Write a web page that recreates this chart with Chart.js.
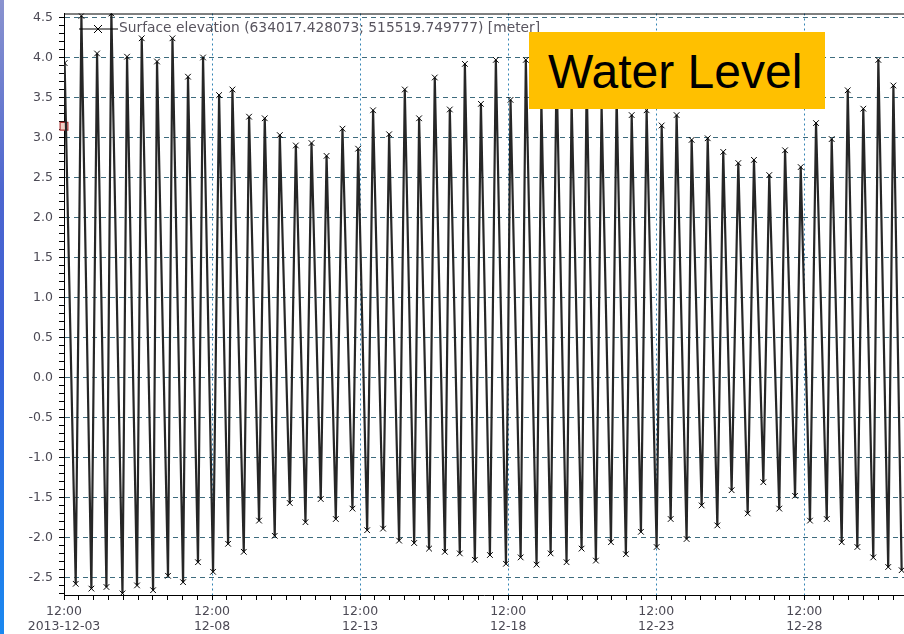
<!DOCTYPE html>
<html>
<head>
<meta charset="utf-8">
<script src="https://cdn.jsdelivr.net/npm/chart.js@4.4.1/dist/chart.umd.min.js"></script>
<style>
html,body{margin:0;padding:0;background:#fff;}
#wrap{position:relative;width:904px;height:634px;overflow:hidden;background:#fff;}
#c{position:absolute;left:0;top:0;}
#strip{position:absolute;left:0;top:0;width:4px;height:634px;
  background:linear-gradient(to bottom,#8a93cf 0%,#4d66cf 30%,#3a5fd6 55%,#2577e6 80%,#1a88f0 100%);}
#legendSample{position:absolute;left:78px;top:23px;}
#legendText{position:absolute;left:119px;top:21px;font-family:"DejaVu Sans",sans-serif;font-size:13.8px;line-height:1;color:#58545e;white-space:nowrap;}
#box{position:absolute;left:529px;top:32px;width:296px;height:77px;background:#FFC000;}
#box span{position:absolute;left:19px;top:16px;font-family:"Liberation Sans",Arial,sans-serif;font-size:48px;line-height:1;color:#000;white-space:nowrap;}
</style>
</head>
<body>
<div id="wrap">
  <canvas id="c" width="904" height="634"></canvas>
  <div id="strip"></div>
  <svg id="legendSample" width="42" height="12" viewBox="0 0 42 12">
    <line x1="1" y1="6" x2="40" y2="6" stroke="#000" stroke-width="1"/>
    <line x1="16" y1="2" x2="24" y2="10" stroke="#000" stroke-width="1"/>
    <line x1="24" y1="2" x2="16" y2="10" stroke="#000" stroke-width="1"/>
  </svg>
  <div id="legendText">Surface elevation (634017.428073; 515519.749777) [meter]</div>
  <div id="box"><span>Water Level</span></div>
</div>
<script>
// Hours after 2013-12-03 12:00 and surface elevation [m] at each high water
const highTideHours = [0.5,14.1,26.8,38.4,51.1,63.0,75.4,87.9,100.5,112.7,125.7,136.5,150.0,162.7,174.9,187.9,200.6,212.8,225.7,238.4,250.5,263.5,276.2,287.8,300.5,312.7,324.9,337.9,350.0,361.9,374.3,386.9,399.2,411.4,423.6,435.7,447.9,460.1,472.2,484.4,496.5,508.7,521.7,534.3,546.5,559.2,571.6,584.4,597.1,609.5,622.2,635.2,647.8,660.0,672.2];
const highTideLevels = [3.93,4.52,4.05,4.55,4.01,4.24,3.95,4.24,3.76,4.00,3.53,3.60,3.26,3.24,3.03,2.90,2.93,2.77,3.11,2.86,3.34,3.04,3.60,3.24,3.75,3.35,3.92,3.42,3.97,3.47,3.97,3.45,3.85,3.45,3.70,3.40,3.50,3.28,3.34,3.15,3.28,2.97,2.99,2.82,2.68,2.72,2.53,2.84,2.63,3.18,2.98,3.59,3.36,3.97,3.65];
// Hours after 2013-12-03 12:00 and surface elevation [m] at each low water
const lowTideHours = [9.5,22.2,34.4,47.4,59.2,72.2,84.3,96.5,108.6,120.8,133.0,145.7,158.1,170.8,183.0,195.7,208.1,220.3,233.8,245.7,258.6,271.6,283.8,295.9,308.7,320.8,333.0,345.2,358.2,370.1,383.0,394.4,407.3,419.5,431.1,443.3,455.4,467.6,480.3,491.7,504.6,516.8,529.5,541.1,554.1,566.8,579.7,592.5,604.6,618.2,630.3,643.0,655.9,668.0,678.9];
const lowTideLevels = [-2.58,-2.64,-2.62,-2.70,-2.60,-2.66,-2.48,-2.56,-2.31,-2.43,-2.08,-2.18,-1.79,-1.98,-1.57,-1.81,-1.52,-1.77,-1.64,-1.91,-1.89,-2.04,-2.07,-2.14,-2.18,-2.20,-2.28,-2.22,-2.33,-2.25,-2.34,-2.20,-2.31,-2.14,-2.29,-2.06,-2.21,-1.93,-2.12,-1.77,-2.02,-1.60,-1.85,-1.41,-1.70,-1.31,-1.64,-1.48,-1.79,-1.77,-2.06,-2.12,-2.25,-2.37,-2.41];
// Cursor marker on the left axis
const cursorHours = [0];
const cursorLevels = [3.14];
// Axis labels
const majorTickHours = [0,120,240,360,480,600];
const majorTickTimes = ['12:00','12:00','12:00','12:00','12:00','12:00'];
const majorTickDates = ['2013-12-03','12-08','12-13','12-18','12-23','12-28'];
const minorTickStepHours = 12;
const yTickTenthsMin = -27, yTickTenthsMax = 45, yLabelEveryTenths = 5;

const seriesPoints = highTideHours.map((h,i)=>({x:h,y:highTideLevels[i]}))
  .concat(lowTideHours.map((h,i)=>({x:h,y:lowTideLevels[i]})))
  .sort((a,b)=>a.x-b.x);
const cursorPoints = cursorHours.map((h,i)=>({x:h,y:cursorLevels[i]}));

const xMin = 0, xMax = 680.8, yMin = -2.72, yMax = 4.55;
const tickFont = {family:'"DejaVu Sans", sans-serif', size:12.5, lineHeight:1.2};
const tickColor = '#4c4a55';

const topBorder = {
  id:'topBorder',
  afterDraw(chart){
    const {ctx, chartArea:a} = chart;
    ctx.save();
    ctx.strokeStyle='#000'; ctx.lineWidth=1;
    ctx.beginPath(); ctx.moveTo(a.left, a.top+0.5); ctx.lineTo(a.right, a.top+0.5); ctx.stroke();
    ctx.restore();
  }
};

new Chart(document.getElementById('c'), {
  type:'line',
  data:{datasets:[
    {
      label:'Surface elevation (634017.428073; 515519.749777) [meter]',
      data:seriesPoints,
      borderColor:'#262626',
      borderWidth:2.2,
      tension:0,
      pointStyle:'crossRot',
      pointRadius:4,
      pointBorderWidth:1,
      pointBorderColor:'#000',
      pointBackgroundColor:'#000'
    },
    {
      label:'cursor',
      data:cursorPoints,
      showLine:false,
      pointStyle:'rect',
      pointRadius:5.5,
      pointBorderWidth:1.2,
      pointBorderColor:'#b03a3a',
      pointBackgroundColor:'#f3cfc6',
      clip:false
    }
  ]},
  options:{
    responsive:false,
    animation:false,
    devicePixelRatio:1,
    layout:{autoPadding:false,padding:{top:13,left:0,right:0,bottom:0}},
    plugins:{legend:{display:false},tooltip:{enabled:false}},
    scales:{
      x:{
        type:'linear', min:xMin, max:xMax,
        afterBuildTicks(scale){
          const t=[]; for(let h=0; h<=xMax; h+=minorTickStepHours) t.push({value:h});
          scale.ticks=t;
        },
        afterFit(scale){ scale.height = 39; },
        ticks:{
          autoSkip:false, maxRotation:0, minRotation:0, padding:4,
          font:tickFont, color:tickColor, includeBounds:false,
          callback(v){
            const i = majorTickHours.indexOf(v);
            return i>=0 ? [majorTickTimes[i], majorTickDates[i]] : '';
          }
        },
        grid:{
          color:ctx=> (ctx.tick && majorTickHours.includes(ctx.tick.value)) ? '#3384b4' : 'rgba(0,0,0,0)',
          lineWidth:1,
          tickColor:'#000',
          tickLength:5,
          drawTicks:true
        },
        border:{display:true,color:'#000',width:1,dash:[2,3]}
      },
      y:{
        type:'linear', min:yMin, max:yMax,
        afterBuildTicks(scale){
          const t=[]; for(let i=yTickTenthsMin;i<=yTickTenthsMax;i++) t.push({value:i/10});
          scale.ticks=t;
        },
        afterFit(scale){ scale.width = 64; },
        ticks:{
          autoSkip:false, padding:6, font:tickFont, color:tickColor, includeBounds:false,
          callback(v){
            const k=Math.round(v*10);
            return (k % yLabelEveryTenths === 0) ? (k/10).toFixed(1) : '';
          }
        },
        grid:{
          color:ctx=> (ctx.tick && Math.round(ctx.tick.value*10) % yLabelEveryTenths === 0) ? '#3e6c7e' : 'rgba(0,0,0,0)',
          lineWidth:1,
          tickColor:'#000',
          tickLength:5
        },
        border:{display:true,color:'#000',width:1,dash:[5,4]}
      }
    }
  },
  plugins:[topBorder]
});
</script>
</body>
</html>
